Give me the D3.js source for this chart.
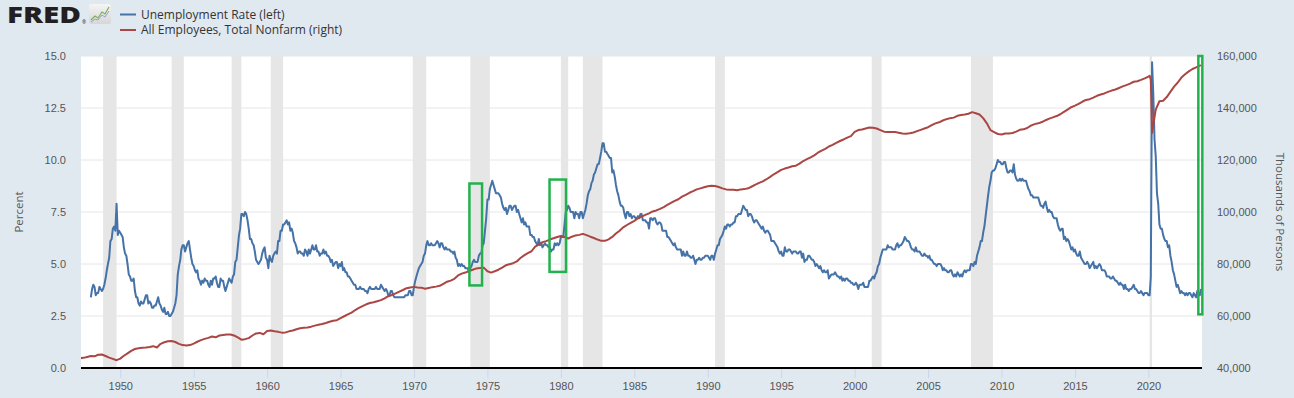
<!DOCTYPE html>
<html>
<head>
<meta charset="utf-8">
<script src="https://cdn.jsdelivr.net/npm/d3@7"></script>
<style>
body { margin: 0; background: #e1e9f0; }
svg { display: block; font-family: "Open Sans", sans-serif; }
</style>
</head>
<body>
<script>
// monthly unemployment rate, percent, one row per year from 1948
var unrateStart = 1948;
var unrate = [
  [3.4,3.8,4.0,3.9,3.5,3.6,3.6,3.9,3.8,3.7,3.8,4.0],
  [4.3,4.7,5.0,5.3,6.1,6.2,6.7,6.8,6.6,7.9,6.4,6.6],
  [6.5,6.4,6.3,5.8,5.5,5.4,5.0,4.5,4.4,4.2,4.2,4.3],
  [3.7,3.4,3.4,3.1,3.0,3.2,3.1,3.1,3.3,3.5,3.5,3.1],
  [3.2,3.1,2.9,2.9,3.0,3.0,3.2,3.4,3.1,3.0,2.8,2.7],
  [2.9,2.6,2.6,2.7,2.5,2.5,2.6,2.7,2.9,3.1,3.5,4.5],
  [4.9,5.2,5.7,5.9,5.9,5.6,5.8,6.0,6.1,5.7,5.3,5.0],
  [4.9,4.7,4.6,4.7,4.3,4.2,4.0,4.2,4.1,4.3,4.2,4.2],
  [4.0,3.9,4.2,4.0,4.3,4.3,4.4,4.1,3.9,3.9,4.3,4.2],
  [4.2,3.9,3.7,3.9,4.1,4.3,4.2,4.1,4.4,4.5,5.1,5.2],
  [5.8,6.4,6.7,7.4,7.4,7.3,7.5,7.4,7.1,6.7,6.2,6.2],
  [6.0,5.9,5.6,5.2,5.1,5.0,5.1,5.2,5.5,5.7,5.8,5.3],
  [5.2,4.8,5.4,5.2,5.1,5.4,5.5,5.6,5.5,6.1,6.1,6.6],
  [6.6,6.9,6.9,7.0,7.1,6.9,7.0,6.6,6.7,6.5,6.1,6.0],
  [5.8,5.5,5.6,5.6,5.5,5.5,5.4,5.7,5.6,5.4,5.7,5.5],
  [5.7,5.9,5.7,5.7,5.9,5.6,5.6,5.4,5.5,5.5,5.7,5.5],
  [5.6,5.4,5.4,5.3,5.1,5.2,4.9,5.0,5.1,5.1,4.8,5.0],
  [4.9,5.1,4.7,4.8,4.6,4.6,4.4,4.4,4.3,4.2,4.1,4.0],
  [4.0,3.8,3.8,3.8,3.9,3.8,3.8,3.8,3.7,3.7,3.6,3.8],
  [3.9,3.8,3.8,3.8,3.8,3.9,3.8,3.8,3.8,4.0,3.9,3.8],
  [3.7,3.8,3.7,3.5,3.5,3.7,3.7,3.5,3.4,3.4,3.4,3.4],
  [3.4,3.4,3.4,3.4,3.4,3.5,3.5,3.5,3.7,3.7,3.5,3.5],
  [3.9,4.2,4.4,4.6,4.8,4.9,5.0,5.1,5.4,5.5,5.9,6.1],
  [5.9,5.9,6.0,5.9,5.9,5.9,6.0,6.1,6.0,5.8,6.0,6.0],
  [5.8,5.7,5.8,5.7,5.7,5.7,5.6,5.6,5.5,5.6,5.3,5.2],
  [4.9,5.0,4.9,5.0,4.9,4.9,4.8,4.8,4.8,4.6,4.8,4.9],
  [5.1,5.2,5.1,5.1,5.1,5.4,5.5,5.5,5.9,6.0,6.6,7.2],
  [8.1,8.1,8.6,8.8,9.0,8.8,8.6,8.4,8.4,8.4,8.3,8.2],
  [7.9,7.7,7.6,7.7,7.4,7.6,7.8,7.8,7.6,7.7,7.8,7.8],
  [7.5,7.6,7.4,7.2,7.0,7.2,6.9,7.0,6.8,6.8,6.8,6.4],
  [6.4,6.3,6.3,6.1,6.0,5.9,6.2,5.9,6.0,5.8,5.9,6.0],
  [5.9,5.9,5.8,5.8,5.6,5.7,5.7,6.0,5.9,6.0,5.9,6.0],
  [6.3,6.3,6.3,6.9,7.5,7.6,7.8,7.7,7.5,7.5,7.5,7.2],
  [7.5,7.4,7.4,7.2,7.5,7.5,7.2,7.4,7.6,7.9,8.3,8.5],
  [8.6,8.9,9.0,9.3,9.4,9.6,9.8,9.8,10.1,10.4,10.8,10.8],
  [10.4,10.4,10.3,10.2,10.1,10.1,9.4,9.5,9.2,8.8,8.5,8.3],
  [8.0,7.8,7.8,7.7,7.4,7.2,7.5,7.5,7.3,7.4,7.2,7.3],
  [7.3,7.2,7.2,7.3,7.2,7.4,7.4,7.1,7.1,7.1,7.0,7.0],
  [6.7,7.2,7.2,7.1,7.2,7.2,7.0,6.9,7.0,7.0,6.9,6.6],
  [6.6,6.6,6.6,6.3,6.3,6.2,6.1,6.0,5.9,6.0,5.8,5.7],
  [5.7,5.7,5.7,5.4,5.6,5.4,5.4,5.6,5.4,5.4,5.3,5.3],
  [5.4,5.2,5.0,5.2,5.2,5.3,5.2,5.2,5.3,5.3,5.4,5.4],
  [5.4,5.3,5.2,5.4,5.4,5.2,5.5,5.7,5.9,5.9,6.2,6.3],
  [6.4,6.6,6.8,6.7,6.9,6.9,6.8,6.9,6.9,7.0,7.0,7.3],
  [7.3,7.4,7.4,7.4,7.6,7.8,7.7,7.6,7.6,7.3,7.4,7.4],
  [7.3,7.1,7.0,7.1,7.1,7.0,6.9,6.8,6.7,6.8,6.6,6.5],
  [6.6,6.6,6.5,6.4,6.1,6.1,6.1,6.0,5.9,5.8,5.6,5.5],
  [5.6,5.4,5.4,5.8,5.6,5.6,5.7,5.7,5.6,5.5,5.6,5.6],
  [5.6,5.5,5.5,5.6,5.6,5.3,5.5,5.1,5.2,5.2,5.4,5.4],
  [5.3,5.2,5.2,5.1,4.9,5.0,4.9,4.8,4.9,4.7,4.6,4.7],
  [4.6,4.6,4.7,4.3,4.4,4.5,4.5,4.5,4.6,4.5,4.4,4.4],
  [4.3,4.4,4.2,4.3,4.2,4.3,4.3,4.2,4.2,4.1,4.1,4.0],
  [4.0,4.1,4.0,3.8,4.0,4.0,4.0,4.1,3.9,3.9,3.9,3.9],
  [4.2,4.2,4.3,4.4,4.3,4.5,4.6,4.9,5.0,5.3,5.5,5.7],
  [5.7,5.7,5.7,5.9,5.8,5.8,5.8,5.7,5.7,5.7,5.9,6.0],
  [5.8,5.9,5.9,6.0,6.1,6.3,6.2,6.1,6.1,6.0,5.8,5.7],
  [5.7,5.6,5.8,5.6,5.6,5.6,5.5,5.4,5.4,5.5,5.4,5.4],
  [5.3,5.4,5.2,5.2,5.1,5.0,5.0,4.9,5.0,5.0,5.0,4.9],
  [4.7,4.8,4.7,4.7,4.6,4.6,4.7,4.7,4.5,4.4,4.5,4.4],
  [4.6,4.5,4.4,4.5,4.4,4.6,4.7,4.6,4.7,4.7,4.7,5.0],
  [5.0,4.9,5.1,5.0,5.4,5.6,5.8,6.1,6.1,6.5,6.8,7.3],
  [7.8,8.3,8.7,9.0,9.4,9.5,9.5,9.6,9.8,10.0,9.9,9.9],
  [9.8,9.8,9.9,9.9,9.6,9.4,9.4,9.5,9.5,9.4,9.8,9.3],
  [9.1,9.0,9.0,9.1,9.0,9.1,9.0,9.0,9.0,8.8,8.6,8.5],
  [8.3,8.3,8.2,8.2,8.2,8.2,8.2,8.0,7.8,7.8,7.7,7.9],
  [8.0,7.7,7.5,7.6,7.5,7.5,7.3,7.2,7.2,7.2,6.9,6.7],
  [6.6,6.7,6.7,6.2,6.3,6.1,6.2,6.1,5.9,5.7,5.8,5.6],
  [5.7,5.5,5.4,5.4,5.6,5.3,5.2,5.1,5.0,5.0,5.1,5.0],
  [4.8,4.9,5.0,5.1,4.8,4.9,4.8,4.9,5.0,4.9,4.7,4.7],
  [4.7,4.6,4.4,4.4,4.4,4.3,4.3,4.4,4.3,4.2,4.2,4.1],
  [4.0,4.1,4.0,4.0,3.8,4.0,3.8,3.8,3.7,3.8,3.8,3.9],
  [4.0,3.8,3.8,3.7,3.6,3.6,3.7,3.6,3.5,3.6,3.6,3.6],
  [3.5,3.5,4.4,14.7,13.2,11.0,10.2,8.4,7.9,6.9,6.7,6.7],
  [6.4,6.2,6.1,6.1,5.8,5.9,5.4,5.1,4.7,4.5,4.2,3.9],
  [4.0,3.8,3.6,3.7,3.6,3.6,3.5,3.6,3.5,3.6,3.6,3.5],
  [3.4,3.6,3.5,3.4,3.7,3.6,3.5,3.8]
];

// nonfarm payrolls, thousands of persons, Jan/Apr/Jul/Oct from 1947
var payrollStart = 1947;
var payrollQuarterly = [
  [43535,43750,43900,44250],
  [44600,44500,45100,45200],
  [44600,44000,43500,43000],
  [43600,44700,45600,46600],
  [47300,47600,47800,47900],
  [48100,48400,47900,49300],
  [49900,50300,50400,50000],
  [49300,48800,48700,48800],
  [49400,50100,50700,51200],
  [51600,52100,51800,52500],
  [52700,52900,52900,52500],
  [51800,50900,51100,51500],
  [52500,53300,53500,53000],
  [54200,54400,54100,53900],
  [53600,53700,54100,54400],
  [54900,55300,55500,55600],
  [55900,56300,56600,56900],
  [57300,57800,58200,58400],
  [59200,59900,60600,61300],
  [62300,63100,63800,64500],
  [65000,65300,65700,66100],
  [66800,67600,68100,68700],
  [69400,70000,70700,71000],
  [71200,71000,70900,70500],
  [70800,71100,71300,71600],
  [72400,73200,73600,74300],
  [75600,76300,76700,77300],
  [77800,78300,78500,78600],
  [77200,76700,77200,77800],
  [78600,79500,79900,80300],
  [81000,82300,83300,84200],
  [84900,86700,87500,88400],
  [88800,89400,89900,90400],
  [90800,90400,89800,90500],
  [91000,91200,91600,91100],
  [90500,90000,89400,88900],
  [88900,89500,90400,91700],
  [92800,94100,95000,95800],
  [96600,97600,98200,98900],
  [99500,100200,100600,101200],
  [101900,102700,103500,104300],
  [104900,105900,106600,107400],
  [108000,108700,109100,109500],
  [109900,110100,110000,109600],
  [109100,108700,108600,108600],
  [108400,108700,108800,109100],
  [109800,110500,111200,111800],
  [112600,113500,114500,115300],
  [116200,116700,117100,117600],
  [117800,118600,119600,120300],
  [121000,121800,122800,123600],
  [124300,125200,125800,126600],
  [127300,127900,128600,129200],
  [130800,131500,131700,132100],
  [132500,132400,132100,131500],
  [130900,130800,130800,130800],
  [130500,130200,130100,130300],
  [130600,131100,131600,132100],
  [132600,133400,134100,134500],
  [135200,135700,136100,136300],
  [137000,137300,137500,137800],
  [138400,138000,137500,136100],
  [134100,131500,130700,130000],
  [129800,130200,130200,130400],
  [130900,131600,131800,132300],
  [133200,133800,134100,134600],
  [135300,135900,136400,136900],
  [137600,138500,139400,140300],
  [140900,141600,142400,143100],
  [143400,144000,144700,145200],
  [145600,146200,146700,147100],
  [147700,148300,148800,149400],
  [150100,150300,150800,151400],
  [152100,130400,139400,142600],
  [142800,144200,146200,148200],
  [149800,151700,153000,154100],
  [155000,155600,156300]
];
var payrollExtra = [["2020-02",152400],["2020-03",150900],["2023-08",156400]];

var recessions = [
  ["1948-11","1949-10"],["1953-07","1954-05"],["1957-08","1958-04"],
  ["1960-04","1961-02"],["1969-12","1970-11"],["1973-11","1975-03"],
  ["1980-01","1980-07"],["1981-07","1982-11"],["1990-07","1991-03"],
  ["2001-03","2001-11"],["2007-12","2009-06"],["2020-02","2020-04"]
];

// green highlight boxes drawn on the chart (date span, percent span)
var highlights = [
  ["1973-10-10","1974-08-20",3.97,8.87],
  ["1979-03-25","1980-05-08",4.62,9.06],
  ["2023-05-27","2023-09-03",2.58,15.0]
];

var yearTicks = [1950,1955,1960,1965,1970,1975,1980,1985,1990,1995,2000,2005,2010,2015,2020];
var leftTicks = [0,2.5,5,7.5,10,12.5,15];
var rightTicks = [40000,60000,80000,100000,120000,140000,160000];

var parseMonth = d3.timeParse("%Y-%m");
var parseDay = d3.timeParse("%Y-%m-%d");

var unrateData = [];
unrate.forEach(function(row, i) {
  row.forEach(function(v, m) {
    unrateData.push({date: new Date(unrateStart + i, m, 1), value: v});
  });
});

var payrollData = [];
payrollQuarterly.forEach(function(row, i) {
  row.forEach(function(v, q) {
    payrollData.push({date: new Date(payrollStart + i, q * 3, 1), value: v});
  });
});
payrollExtra.forEach(function(d) {
  payrollData.push({date: parseMonth(d[0]), value: d[1]});
});
payrollData.sort(function(a, b) { return a.date - b.date; });

var W = 1294, H = 398;
var plotL = 81, plotR = 1202, plotT = 56, plotB = 368;

var svg = d3.select("body").append("svg")
  .attr("width", W).attr("height", H);

svg.append("rect").attr("width", W).attr("height", H).attr("fill", "#e1e9f0");

var x = d3.scaleTime()
  .domain([new Date(1947, 4, 1), new Date(2023, 7, 1)])
  .range([plotL, 1201]);
var yL = d3.scaleLinear().domain([0, 15]).range([plotB, plotT]);
var yR = d3.scaleLinear().domain([40000, 160000]).range([plotB, plotT]);

var defs = svg.append("defs");

svg.append("rect")
  .attr("x", plotL).attr("y", plotT)
  .attr("width", plotR - plotL).attr("height", plotB - plotT)
  .attr("fill", "#ffffff");

defs.append("clipPath").attr("id", "plot")
  .append("rect").attr("x", plotL).attr("y", plotT - 2)
  .attr("width", plotR - plotL).attr("height", plotB - plotT + 2);

// recession shading
svg.append("g").selectAll("rect")
  .data(recessions)
  .join("rect")
  .attr("x", function(d) { return x(parseMonth(d[0])); })
  .attr("width", function(d) { return x(parseMonth(d[1])) - x(parseMonth(d[0])); })
  .attr("y", plotT)
  .attr("height", plotB - plotT)
  .attr("fill", "#e6e6e6");

// grid
svg.append("g").selectAll("line")
  .data(leftTicks.filter(function(t) { return t > 0; }))
  .join("line")
  .attr("x1", plotL).attr("x2", plotR)
  .attr("y1", function(d) { return yL(d); })
  .attr("y2", function(d) { return yL(d); })
  .attr("stroke", "#e6e6e6")
  .attr("stroke-width", 1);

var lineL = d3.line()
  .x(function(d) { return x(d.date); })
  .y(function(d) { return yL(d.value); });
var lineR = d3.line()
  .x(function(d) { return x(d.date); })
  .y(function(d) { return yR(d.value); });

var lines = svg.append("g").attr("clip-path", "url(#plot)");
lines.append("path")
  .datum(unrateData)
  .attr("d", lineL)
  .attr("fill", "none")
  .attr("stroke", "#4572a7")
  .attr("stroke-width", 2)
  .attr("stroke-linejoin", "round");
lines.append("path")
  .datum(payrollData)
  .attr("d", lineR)
  .attr("fill", "none")
  .attr("stroke", "#aa4643")
  .attr("stroke-width", 2)
  .attr("stroke-linejoin", "round");

// x axis
var xAxis = svg.append("g")
  .attr("transform", "translate(0," + plotB + ")")
  .call(d3.axisBottom(x)
    .tickValues(yearTicks.map(function(y) { return new Date(y, 0, 1); }))
    .tickFormat(d3.timeFormat("%Y"))
    .tickSize(10)
    .tickPadding(4));
xAxis.select(".domain").remove();
xAxis.selectAll(".tick line").attr("stroke", "#ccd6eb");
xAxis.selectAll("text").attr("fill", "#555555").style("font-size", "11px");

svg.append("line")
  .attr("x1", plotL).attr("x2", plotR)
  .attr("y1", plotB).attr("y2", plotB)
  .attr("stroke", "#000000")
  .attr("stroke-width", 2);

// left axis
var axL = svg.append("g")
  .attr("transform", "translate(" + plotL + ",0)")
  .call(d3.axisLeft(yL).tickValues(leftTicks).tickFormat(d3.format(".1f"))
    .tickSize(0).tickPadding(15));
axL.select(".domain").remove();
axL.selectAll("text").attr("fill", "#555555").style("font-size", "11px");

// right axis
var axR = svg.append("g")
  .attr("transform", "translate(" + plotR + ",0)")
  .call(d3.axisRight(yR).tickValues(rightTicks).tickFormat(d3.format(","))
    .tickSize(0).tickPadding(15));
axR.select(".domain").remove();
axR.selectAll("text").attr("fill", "#555555").style("font-size", "11px");

svg.append("text")
  .attr("transform", "translate(23,212) rotate(-90)")
  .attr("text-anchor", "middle")
  .attr("fill", "#555555")
  .style("font-size", "11.5px")
  .text("Percent");
svg.append("text")
  .attr("transform", "translate(1276,212) rotate(90)")
  .attr("text-anchor", "middle")
  .attr("fill", "#555555")
  .style("font-size", "11.5px")
  .text("Thousands of Persons");

// highlight boxes
svg.append("g").selectAll("rect")
  .data(highlights)
  .join("rect")
  .attr("x", function(d) { return x(parseDay(d[0])); })
  .attr("width", function(d) { return x(parseDay(d[1])) - x(parseDay(d[0])); })
  .attr("y", function(d) { return yL(d[3]); })
  .attr("height", function(d) { return yL(d[2]) - yL(d[3]); })
  .attr("fill", "none")
  .attr("stroke", "#22b14c")
  .attr("stroke-width", 2.5);

// FRED logo
var logo = svg.append("g");
logo.append("text")
  .attr("x", 7).attr("y", 23)
  .attr("fill", "#231f20")
  .attr("textLength", 74)
  .attr("lengthAdjust", "spacingAndGlyphs")
  .style("font-size", "22.5px")
  .style("font-weight", "800")
  .text("FRED");
logo.append("text")
  .attr("x", 82).attr("y", 24)
  .attr("fill", "#231f20")
  .style("font-size", "5px")
  .text("®");
var grad = defs.append("linearGradient")
  .attr("id", "icon").attr("x1", 0).attr("y1", 0).attr("x2", 0).attr("y2", 1);
grad.append("stop").attr("offset", 0).attr("stop-color", "#f4f4f4");
grad.append("stop").attr("offset", 1).attr("stop-color", "#d6d6d6");
logo.append("rect")
  .attr("x", 89).attr("y", 4).attr("width", 22).attr("height", 20).attr("rx", 2)
  .attr("fill", "url(#icon)");
logo.append("polyline")
  .attr("points", "91,20 95,16 98,18 102,12 105,14 109,7")
  .attr("fill", "none").attr("stroke", "#7fae5a").attr("stroke-width", 1.2);
logo.append("polyline")
  .attr("points", "91,22 95,19 98,20 102,15 105,17 109,11")
  .attr("fill", "none").attr("stroke", "#8aa7c8").attr("stroke-width", 1);

// legend
var legend = svg.append("g");
var legendItems = [["Unemployment Rate (left)", "#4572a7", 14.5], ["All Employees, Total Nonfarm (right)", "#aa4643", 30]];
legendItems.forEach(function(d) {
  legend.append("line")
    .attr("x1", 120).attr("x2", 136)
    .attr("y1", d[2]).attr("y2", d[2])
    .attr("stroke", d[1]).attr("stroke-width", 2);
  legend.append("text")
    .attr("x", 141).attr("y", d[2] + 4.3)
    .attr("fill", "#333333")
    .style("font-size", "12px")
    .text(d[0]);
});
</script>
</body>
</html>
